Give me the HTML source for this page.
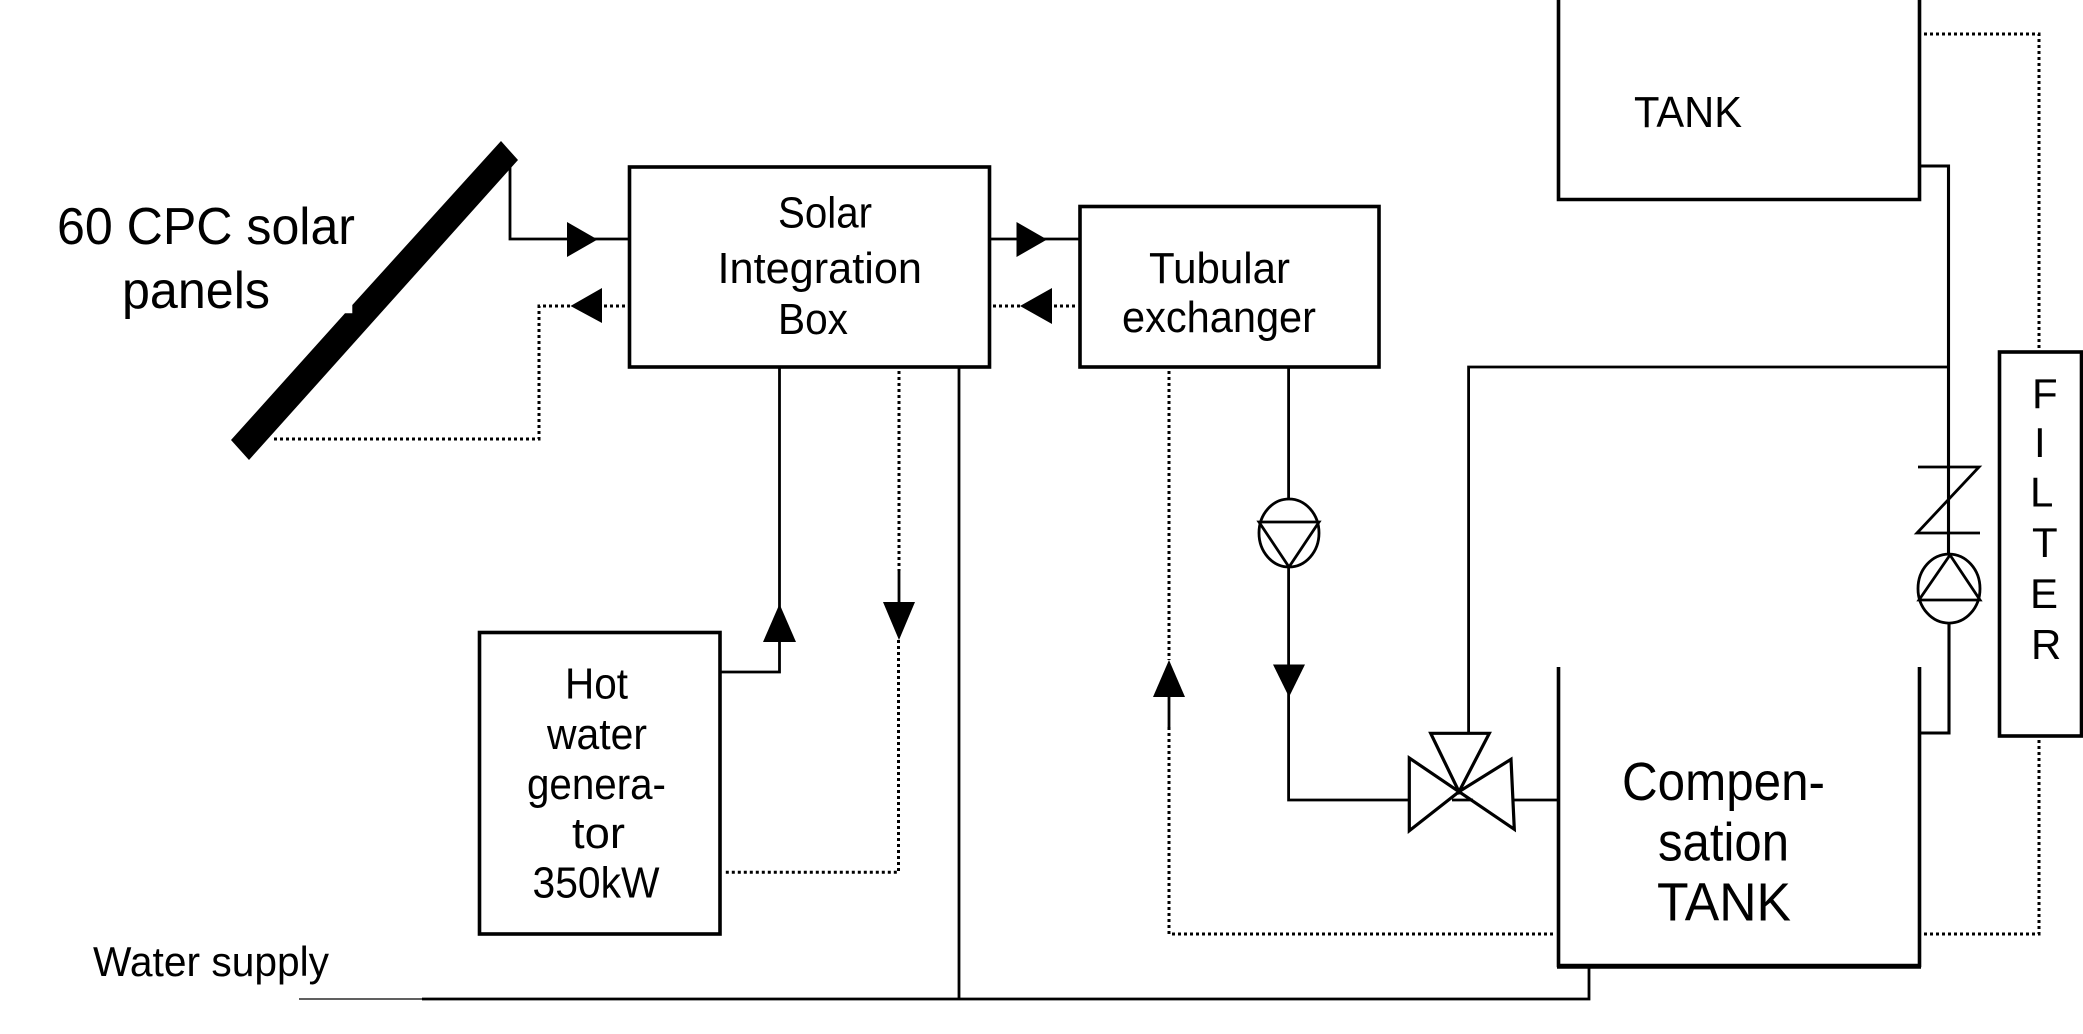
<!DOCTYPE html>
<html><head><meta charset="utf-8"><style>
html,body{margin:0;padding:0;background:#fff;width:2083px;height:1034px;overflow:hidden}
svg{display:block}
text{font-family:"Liberation Sans",sans-serif;fill:#000}
.s{fill:none;stroke:#000;stroke-width:2.8;stroke-linejoin:miter}
.b{fill:none;stroke:#000;stroke-width:3.6;stroke-linejoin:miter}
.d{fill:none;stroke:#000;stroke-width:3;stroke-dasharray:3 3}
.a{fill:#000;stroke:none}
</style></head><body>
<svg width="2083" height="1034" viewBox="0 0 2083 1034" xmlns="http://www.w3.org/2000/svg">
<rect width="2083" height="1034" fill="#fff"/>

<!-- Solar panel -->
<polygon class="a" points="501,141 518,160 249,460 231,440 345,313.3 352.3,313.3 352.3,305"/>

<!-- Boxes -->
<rect class="b" x="629.5" y="167" width="360" height="200"/>
<rect class="b" x="1080" y="206.5" width="299" height="160.5"/>
<rect class="b" x="479.5" y="632.5" width="240.5" height="301.5"/>
<path class="b" d="M1558.5,-5V199.5H1919.5V-5"/>
<rect class="b" x="1999.5" y="352" width="82" height="384"/>
<path class="b" d="M1558.5,667V965.5H1919.5V667"/>
<path d="M1557,966.5H1921" stroke="#000" stroke-width="4.5" fill="none"/>

<!-- Solid pipes -->
<path class="s" d="M510,160V239H629"/>
<path class="s" d="M989,239H1080"/>
<path class="s" d="M779.5,367V672H720"/>
<path class="s" d="M959,367V999"/>
<path class="s" d="M422,999H1589V966"/>
<path d="M299,999H422" stroke="#000" stroke-width="1.2" fill="none"/>
<path class="s" d="M899,571V603"/>
<path class="s" d="M1169,697V727"/>
<path class="s" d="M1288.6,367V500M1288.6,567V800H1410"/>
<path class="s" d="M1513,800H1558"/>
<path class="s" d="M1452,800H1473"/>
<path class="s" d="M1468.6,733V367H1948"/>
<path class="b" d="M1919,166H1948.5V554M1949,623V733H1919.5" style="stroke-width:3.1"/>

<!-- Dotted pipes -->
<path class="d" d="M625,306H602M570,306H539V439H274"/>
<path class="d" d="M1075,306H1052M1020,306H993"/>
<path class="d" d="M899,371V571"/>
<path class="d" d="M898.5,640V872.3H723"/>
<path class="d" d="M1169,371V660M1169,727V934H1555"/>
<path class="d" d="M1924,934H2039V738"/>
<path class="d" d="M1924,34H2039V350"/>

<!-- Arrowheads -->
<polygon class="a" points="567,222 597.5,239.5 567,257"/>
<polygon class="a" points="602,288 570.5,306 602,323"/>
<polygon class="a" points="1016.5,222 1047,239.5 1016.5,257"/>
<polygon class="a" points="1052,288 1020,306 1052,324"/>
<polygon class="a" points="779.5,604 796,642 763,642"/>
<polygon class="a" points="883,602 915,602 899,640"/>
<polygon class="a" points="1169,660 1185,697 1153,697"/>
<polygon class="a" points="1273,664.5 1305,664.5 1289,697"/>

<!-- Pump 1 -->
<ellipse class="s" cx="1289" cy="533" rx="30" ry="34"/>
<path class="s" d="M1259,522H1319L1289,567Z"/>
<!-- Check valve -->
<path class="s" d="M1918,467H1979L1917,533H1980"/>
<!-- Pump 2 -->
<ellipse class="s" cx="1949" cy="588.6" rx="31" ry="34.5"/>
<path class="s" d="M1919,600H1980L1950,555Z"/>
<!-- 3-way valve -->
<path class="s" style="stroke-width:3.2" d="M1409.3,758V830.7L1459,791.7ZM1511,759.3L1514.3,829.3L1459,791.7ZM1430.7,733.3H1489.3L1459,791.7Z"/>

<!-- Labels -->
<text x="57" y="244" font-size="52" textLength="298" lengthAdjust="spacingAndGlyphs">60 CPC solar</text>
<text x="122" y="308" font-size="52" textLength="148" lengthAdjust="spacingAndGlyphs">panels</text>

<text x="778" y="227.5" font-size="44" textLength="94" lengthAdjust="spacingAndGlyphs">Solar</text>
<text x="717.5" y="283" font-size="44" textLength="204.5" lengthAdjust="spacingAndGlyphs">Integration</text>
<text x="778" y="334" font-size="44" textLength="70" lengthAdjust="spacingAndGlyphs">Box</text>

<text x="1149" y="283" font-size="44" textLength="141" lengthAdjust="spacingAndGlyphs">Tubular</text>
<text x="1122" y="332" font-size="44" textLength="194" lengthAdjust="spacingAndGlyphs">exchanger</text>

<text x="565" y="698.5" font-size="44" textLength="63" lengthAdjust="spacingAndGlyphs">Hot</text>
<text x="547" y="749" font-size="44" textLength="100" lengthAdjust="spacingAndGlyphs">water</text>
<text x="527" y="799" font-size="44" textLength="139" lengthAdjust="spacingAndGlyphs">genera-</text>
<text x="572" y="848" font-size="44" textLength="53" lengthAdjust="spacingAndGlyphs">tor</text>
<text x="532.5" y="897.7" font-size="44" textLength="127" lengthAdjust="spacingAndGlyphs">350kW</text>

<text x="93" y="976" font-size="42" textLength="236" lengthAdjust="spacingAndGlyphs">Water supply</text>
<text x="1634" y="127" font-size="44" textLength="108" lengthAdjust="spacingAndGlyphs">TANK</text>

<text x="1622" y="800" font-size="54" textLength="203" lengthAdjust="spacingAndGlyphs">Compen-</text>
<text x="1658" y="860.5" font-size="54" textLength="131" lengthAdjust="spacingAndGlyphs">sation</text>
<text x="1657" y="920.5" font-size="54" textLength="134" lengthAdjust="spacingAndGlyphs">TANK</text>

<text x="2032" y="408" font-size="42">F</text>
<text x="2034" y="457" font-size="42">I</text>
<text x="2030" y="506.5" font-size="42">L</text>
<text x="2032" y="557" font-size="42">T</text>
<text x="2030" y="608" font-size="42">E</text>
<text x="2031" y="659" font-size="42">R</text>
</svg>
</body></html>
